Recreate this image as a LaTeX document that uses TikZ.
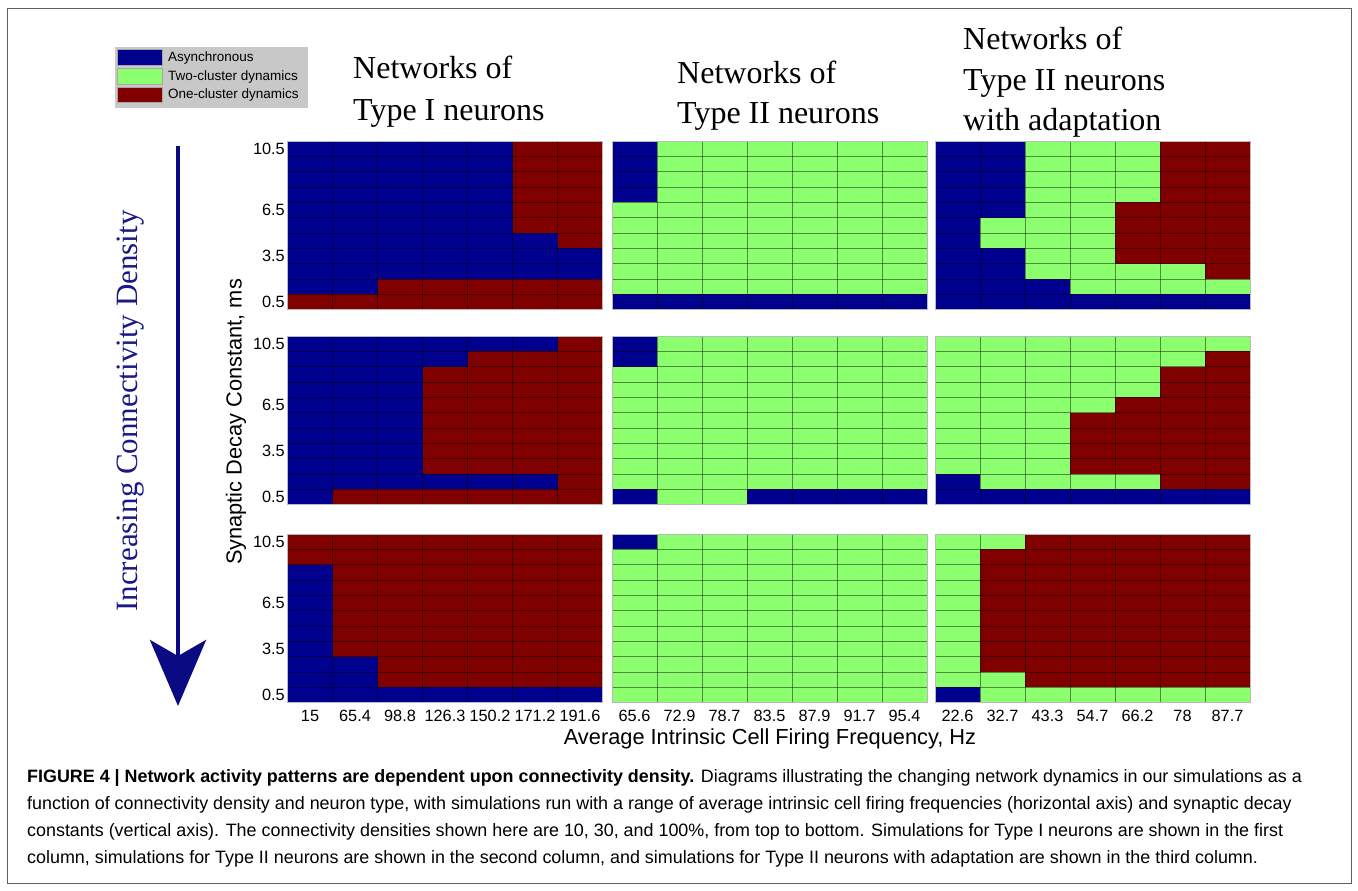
\documentclass[tikz,border=0pt]{standalone}
\usepackage{fontspec}
\setmainfont{Liberation Serif}
\setsansfont{Liberation Sans}
\usetikzlibrary{arrows.meta}
\definecolor{colA}{RGB}{0,0,143}
\definecolor{colG}{RGB}{140,255,110}
\definecolor{colR}{RGB}{128,0,0}
\definecolor{legbg}{RGB}{200,200,200}
\definecolor{arrblue}{RGB}{10,10,130}
\definecolor{txtblue}{RGB}{25,25,135}
\definecolor{framegray}{RGB}{95,95,95}
\tikzset{
  gridln/.style={black, opacity=0.45, line width=0.7pt},
  panelbd/.style={draw=gray!55, line width=0.9pt},
  ticklbl/.style={font=\sffamily\fontsize{16.3}{18}\selectfont, inner sep=0pt},
  titlelbl/.style={font=\rmfamily\fontsize{32}{36}\selectfont, inner sep=0pt, anchor=base west},
  leglbl/.style={font=\sffamily\fontsize{13.5}{15}\selectfont, inner sep=0pt, anchor=west},
  swatch/.style={draw=gray!70, line width=0.5pt},
  caplbl/.style={font=\sffamily\fontsize{17.9}{20}\selectfont, inner sep=0pt, anchor=base west},
}
\newcommand{\hmpanel}[3]{%
  \foreach \rw [count=\ri] in {#3} {%
    \foreach \cc [count=\ki] in \rw {%
      \fill[col\cc] ({#1+(\ki-1)*45},{#2+(\ri-1)*15.318}) rectangle ++(45,15.318);
    }%
  }%
  \foreach \ki in {1,...,6} \draw[gridln] ({#1+\ki*45},#2) -- ++(0,168.5);
  \foreach \ri in {1,...,10} \draw[gridln] (#1,{#2+\ri*15.318}) -- ++(315,0);
  \draw[panelbd] (#1,#2) rectangle ++(315,168.5);
}
\begin{document}
\begin{tikzpicture}[x=1pt,y=-1pt]
\useasboundingbox (0,0) rectangle (1358,891);
\fill[white] (0,0) rectangle (1358,891);
\draw[framegray, line width=0.9pt] (7,8) rectangle (1351,883);

% legend
\fill[legbg] (115,47) rectangle (308,108);
\draw[swatch, fill=colA] (117,49.5) rectangle (162,65);
\draw[swatch, fill=colG] (117,68.5) rectangle (162,84);
\draw[swatch, fill=colR] (117,87.5) rectangle (162,102.5);
\node[leglbl] (legA) at (168,57.7) {Asynchronous};
\node[leglbl] (legG) at (168,76.7) {Two-cluster dynamics};
\node[leglbl] (legR) at (168,95.5) {One-cluster dynamics};

% titles
\node[titlelbl] (t1a) at (353,79) {Networks of};
\node[titlelbl] (t1b) at (353,121) {Type I neurons};
\node[titlelbl] (t2a) at (677,84) {Networks of};
\node[titlelbl] (t2b) at (677,124) {Type II neurons};
\node[titlelbl] (t3a) at (963,50) {Networks of};
\node[titlelbl] (t3b) at (963,91) {Type II neurons};
\node[titlelbl] (t3c) at (963,130) {with adaptation};

% panels row 1
\hmpanel{287.5}{141}{{A,A,A,A,A,R,R},{A,A,A,A,A,R,R},{A,A,A,A,A,R,R},{A,A,A,A,A,R,R},{A,A,A,A,A,R,R},{A,A,A,A,A,R,R},{A,A,A,A,A,A,R},{A,A,A,A,A,A,A},{A,A,A,A,A,A,A},{A,A,R,R,R,R,R},{R,R,R,R,R,R,R}}
\hmpanel{612}{141}{{A,G,G,G,G,G,G},{A,G,G,G,G,G,G},{A,G,G,G,G,G,G},{A,G,G,G,G,G,G},{G,G,G,G,G,G,G},{G,G,G,G,G,G,G},{G,G,G,G,G,G,G},{G,G,G,G,G,G,G},{G,G,G,G,G,G,G},{G,G,G,G,G,G,G},{A,A,A,A,A,A,A}}
\hmpanel{935}{141}{{A,A,G,G,G,R,R},{A,A,G,G,G,R,R},{A,A,G,G,G,R,R},{A,A,G,G,G,R,R},{A,A,G,G,R,R,R},{A,G,G,G,R,R,R},{A,G,G,G,R,R,R},{A,A,G,G,R,R,R},{A,A,G,G,G,G,R},{A,A,A,G,G,G,G},{A,A,A,A,A,A,A}}
% panels row 2
\hmpanel{287.5}{336}{{A,A,A,A,A,A,R},{A,A,A,A,R,R,R},{A,A,A,R,R,R,R},{A,A,A,R,R,R,R},{A,A,A,R,R,R,R},{A,A,A,R,R,R,R},{A,A,A,R,R,R,R},{A,A,A,R,R,R,R},{A,A,A,R,R,R,R},{A,A,A,A,A,A,R},{A,R,R,R,R,R,R}}
\hmpanel{612}{336}{{A,G,G,G,G,G,G},{A,G,G,G,G,G,G},{G,G,G,G,G,G,G},{G,G,G,G,G,G,G},{G,G,G,G,G,G,G},{G,G,G,G,G,G,G},{G,G,G,G,G,G,G},{G,G,G,G,G,G,G},{G,G,G,G,G,G,G},{G,G,G,G,G,G,G},{A,G,G,A,A,A,A}}
\hmpanel{935}{336}{{G,G,G,G,G,G,G},{G,G,G,G,G,G,R},{G,G,G,G,G,R,R},{G,G,G,G,G,R,R},{G,G,G,G,R,R,R},{G,G,G,R,R,R,R},{G,G,G,R,R,R,R},{G,G,G,R,R,R,R},{G,G,G,R,R,R,R},{A,G,G,G,G,R,R},{A,A,A,A,A,A,A}}
% panels row 3
\hmpanel{287.5}{534}{{R,R,R,R,R,R,R},{R,R,R,R,R,R,R},{A,R,R,R,R,R,R},{A,R,R,R,R,R,R},{A,R,R,R,R,R,R},{A,R,R,R,R,R,R},{A,R,R,R,R,R,R},{A,R,R,R,R,R,R},{A,A,R,R,R,R,R},{A,A,R,R,R,R,R},{A,A,A,A,A,A,A}}
\hmpanel{612}{534}{{A,G,G,G,G,G,G},{G,G,G,G,G,G,G},{G,G,G,G,G,G,G},{G,G,G,G,G,G,G},{G,G,G,G,G,G,G},{G,G,G,G,G,G,G},{G,G,G,G,G,G,G},{G,G,G,G,G,G,G},{G,G,G,G,G,G,G},{G,G,G,G,G,G,G},{G,G,G,G,G,G,G}}
\hmpanel{935}{534}{{G,G,R,R,R,R,R},{G,R,R,R,R,R,R},{G,R,R,R,R,R,R},{G,R,R,R,R,R,R},{G,R,R,R,R,R,R},{G,R,R,R,R,R,R},{G,R,R,R,R,R,R},{G,R,R,R,R,R,R},{G,R,R,R,R,R,R},{G,G,R,R,R,R,R},{A,G,G,G,G,G,G}}

% y tick labels
\foreach \py [count=\pi] in {141,336,534} {
  \foreach \lab/\ri in {10.5/1,6.5/5,3.5/8,0.5/11} {
    \node[ticklbl, anchor=east] (yt\pi-\ri) at (285,{\py+(\ri-0.5)*15.318}) {\lab};
  }
}
% x tick labels
\foreach \lab [count=\ki] in {15,65.4,98.8,126.3,150.2,171.2,191.6}
  \node[ticklbl] (xa\ki) at ({287.5+(\ki-0.5)*45},716) {\lab};
\foreach \lab [count=\ki] in {65.6,72.9,78.7,83.5,87.9,91.7,95.4}
  \node[ticklbl] (xb\ki) at ({612+(\ki-0.5)*45},716) {\lab};
\foreach \lab [count=\ki] in {22.6,32.7,43.3,54.7,66.2,78,87.7}
  \node[ticklbl] (xc\ki) at ({935+(\ki-0.5)*45},716) {\lab};

% axis titles
\node[font=\sffamily\fontsize{21.8}{24}\selectfont, inner sep=0pt] (xlab) at (770,739) {Average Intrinsic Cell Firing Frequency, Hz};
\node[font=\sffamily\fontsize{21.8}{24}\selectfont, inner sep=0pt, rotate=90] (ylab) at (236,422) {Synaptic Decay Constant, ms};

% connectivity arrow
\node[font=\rmfamily\fontsize{31}{34}\selectfont, text=txtblue, inner sep=0pt, rotate=90] (conn) at (131,411) {Increasing Connectivity Density};
\coordinate (arrtop) at (178,146);
\coordinate (arrtip) at (178,706);
\draw[arrblue, line width=4.8pt, -{Stealth[length=66pt,width=56pt,inset=16pt]}] (arrtop) -- (arrtip);

% caption
\node[caplbl] (cap1) at (27,782) {\textbf{FIGURE 4 | Network activity patterns are dependent upon connectivity density.} Diagrams illustrating the changing network dynamics in our simulations as a};
\node[caplbl] (cap2) at (27,809) {function of connectivity density and neuron type, with simulations run with a range of average intrinsic cell firing frequencies (horizontal axis) and synaptic decay};
\node[caplbl] (cap3) at (27,836) {constants (vertical axis). The connectivity densities shown here are 10, 30, and 100\%, from top to bottom. Simulations for Type I neurons are shown in the first};
\node[caplbl] (cap4) at (27,863) {column, simulations for Type II neurons are shown in the second column, and simulations for Type II neurons with adaptation are shown in the third column.};
\end{tikzpicture}
\end{document}
